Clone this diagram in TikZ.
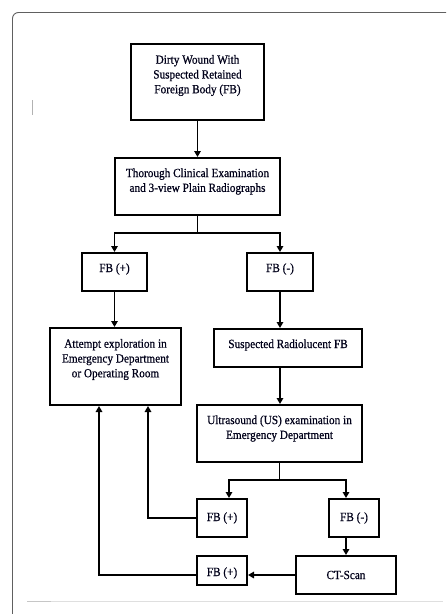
\documentclass[tikz,border=0pt]{standalone}
\usepackage{fontspec}
\setmainfont{Liberation Serif}[FakeStretch=0.9,FakeBold=0.6]
\usetikzlibrary{arrows.meta,calc}
\tikzset{
  box/.style={draw=black, line width=2pt, rectangle, inner sep=0pt},
  txt/.style={align=center, inner sep=0pt, text=black!90!blue, font=\fontsize{12.5}{14.8}\selectfont},
  arr/.style={line width=1.8pt, -{Triangle[length=6pt,width=6.5pt]}},
  conn/.style={line width=1.8pt},
}
\begin{document}
\begin{tikzpicture}[x=1pt,y=-1pt]
\useasboundingbox (0,0) rectangle (447,614);
% page frame
\draw[gray!75!black, line width=0.9pt, rounded corners=6pt] (446,12.5) -- (12.5,12.5) -- (12.5,614);
\draw[gray!25, line width=1pt] (27,601) -- (443,601);
\draw[gray!45, line width=1pt] (27,601) -- (51,601);
\draw[gray!60, line width=0.9pt] (32,100) -- (32,115);
% boxes
\node[box, minimum width=133, minimum height=76] (b1) at (197.5,82) {};
\node[txt] (t1) at ([yshift=6.5pt]b1.center) {Dirty Wound With\\Suspected Retained\\Foreign Body (FB)};
\node[box, minimum width=165, minimum height=57] (b2) at (197.5,186.5) {};
\node[txt] (t2) at ([yshift=5pt]b2.center) {Thorough Clinical Examination\\and 3-view Plain Radiographs};
\node[box, minimum width=65, minimum height=38] (fbp1) at (114.5,272) {};
\node[txt] (t3) at ([yshift=3pt]fbp1.center) {FB (+)};
\node[box, minimum width=66, minimum height=38] (fbm1) at (280,272) {};
\node[txt] (t4) at ([yshift=3pt]fbm1.center) {FB (-)};
\node[box, minimum width=131, minimum height=77] (att) at (115.5,366.5) {};
\node[txt] (t5) at ([yshift=7pt]att.center) {Attempt exploration in\\Emergency Department\\or Operating Room};
\node[box, minimum width=148, minimum height=38] (susp) at (288,348) {};
\node[txt] (t6) at ([yshift=3pt]susp.center) {Suspected Radiolucent FB};
\node[box, minimum width=165, minimum height=57] (us) at (279.5,433.5) {};
\node[txt] (t7) at ([yshift=5pt]us.center) {Ultrasound (US) examination in\\Emergency Department};
\node[box, minimum width=50, minimum height=38] (fbp2) at (222,518) {};
\node[txt] (t8) at (fbp2.center) {FB (+)};
\node[box, minimum width=50, minimum height=38] (fbm2) at (354,518) {};
\node[txt] (t9) at (fbm2.center) {FB (-)};
\node[box, minimum width=100, minimum height=38] (ct) at (346,575) {};
\node[txt] (t10) at (ct.center) {CT-Scan};
\node[box, minimum width=50, minimum height=29] (fbp3) at (222,570.5) {};
\node[txt] (t11) at ([yshift=-2.5pt]fbp3.center) {FB (+)};
% junction points
\coordinate (s1) at (197.5,233);
\coordinate (s2) at (279.5,480);
\coordinate (s2l) at (229,480);
\coordinate (s2r) at (346,480);
% connectors
\draw[arr] (b1.south) -- (b2.north);
\draw[conn] (b2.south) -- (s1);
\draw[arr] (s1) -| (fbp1.north);
\draw[arr] (s1) -| (fbm1.north);
\draw[arr] (fbp1.south) -- (fbp1.south |- att.north);
\draw[arr] (fbm1.south) -- (fbm1.south |- susp.north);
\draw[arr] (fbm1.south |- susp.south) -- (fbm1.south |- us.north);
\draw[conn] (us.south) -- (s2);
\draw[arr] (s2) -- (s2l) -- (s2l |- fbp2.north);
\draw[arr] (s2) -- (s2r) -- (s2r |- fbm2.north);
\draw[arr] (fbp2.west) -| ([xshift=32.5pt]att.south);
\draw[arr] (ct.north |- fbm2.south) -- (ct.north);
\draw[arr] (ct.west) -- (ct.west -| fbp3.east);
\draw[arr] (fbp3.west |- ct.west) -| ([xshift=-16.5pt]att.south);
\end{tikzpicture}
\end{document}
